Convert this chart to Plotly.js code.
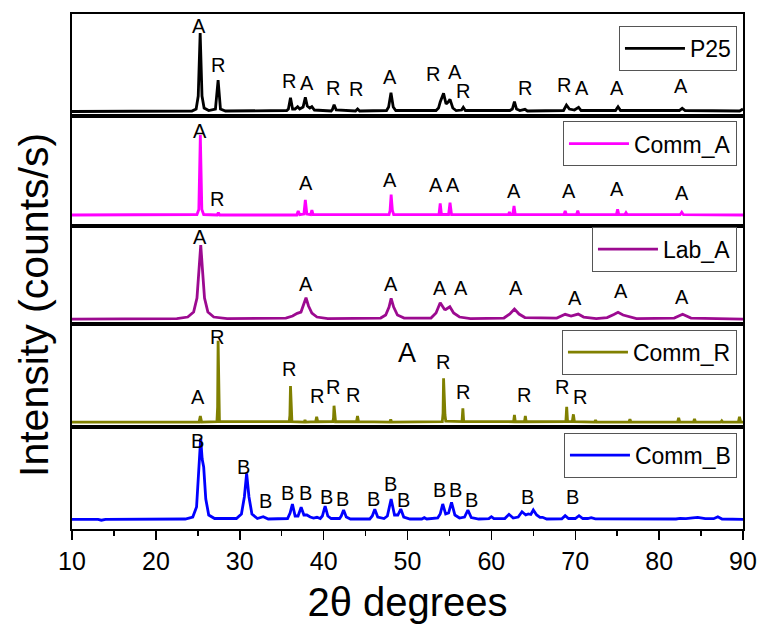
<!DOCTYPE html>
<html>
<head>
<meta charset="utf-8">
<script src="https://cdn.plot.ly/plotly-3.0.1.min.js"></script>
<style>html,body{margin:0;padding:0;background:#fff;}#chart{width:761px;height:626px;}</style>
</head>
<body>
<div id="chart"></div>
<script>
// ---------------- DATA (2θ in degrees, intensity in arbitrary counts) ----------------
const seriesNames = ['P25', 'Comm_A', 'Lab_A', 'Comm_R', 'Comm_B'];

const p25TwoTheta = [10,24.3,24.8,25.05,25.28,25.5,25.75,26.3,27.1,27.42,27.7,28.3,35.6,35.8,36.05,36.3,36.6,36.9,37.15,37.55,37.82,38.05,38.35,38.6,38.9,40.9,41.05,41.25,41.5,43.8,44.05,44.3,47.5,47.75,48.03,48.3,48.6,53.4,53.7,53.9,54.3,54.6,54.85,55.07,55.4,55.8,56.45,56.65,56.9,62.2,62.5,62.75,63.0,63.4,64.0,64.3,68.6,68.95,69.3,69.9,70.4,70.7,74.8,75.1,75.4,82.4,82.75,83.1,89.6,90];
const p25Counts   = [4.5,5,7,20,83,20,8,5.5,7,36,7,5,5.5,7,18.3,7,7,9.3,7,9,18.7,10,8,9.3,6,5,6.5,11.3,6,5,7,5,5.5,9,23.3,9,5.5,5.5,8,14,22.7,12,14,16.7,8,5.5,6,8.7,5.5,5.5,7,14.3,7,5.5,6.7,5,5.5,11,7,6,8.7,5.5,5.5,9.3,5.5,5.5,7.7,5.5,5,7];

const commATwoTheta = [10,24.9,25.12,25.3,25.48,25.7,27.3,27.45,27.6,36.8,36.97,37.15,37.65,37.82,38.0,38.45,38.6,38.75,47.8,47.92,48.05,48.2,48.35,53.75,53.9,54.05,54.9,55.07,55.25,62.05,62.15,62.3,62.55,62.7,62.85,68.65,68.8,68.95,70.15,70.3,70.45,74.9,75.05,75.2,75.9,76.05,76.2,82.5,82.7,82.9,90];
const commACounts   = [10.5,11,16,90.5,16,11,10.5,12.8,10.5,10.5,14.5,10.8,11.5,25.5,11.5,10.8,15.5,10.8,11,15,31,15,11,10.8,22.2,11,11,22.8,11,10.8,13.5,11,11,19.5,11,10.8,14.5,10.8,10.8,14.8,10.8,10.8,16.2,10.8,10.8,12.8,10.8,10.8,13.2,10.8,10.5];

const labATwoTheta = [10,22.5,23.8,24.5,24.9,25.15,25.35,25.55,25.8,26.2,26.9,28.5,35.5,36.3,36.85,37.3,37.6,37.9,38.2,38.6,39.2,40.5,46.8,47.4,47.8,48.05,48.35,48.8,49.6,52.8,53.4,53.9,54.4,54.55,55.05,55.5,56.2,57.5,61.5,62.2,62.75,63.3,64.0,67.8,68.8,69.5,70.35,71.0,72.5,73.8,74.6,75.1,75.7,76.3,77.3,81.8,82.8,83.8,90];
const labACounts   = [5,5.5,7,12,26,55,79,55,26,12,7,5.5,6,8,10.7,12,19,26.3,18,11,7,5.5,6,9,17,25.7,17,9,6,6,11,21.3,14.7,14.5,17.3,11,7,5.5,6,10,15,10,6.5,6,9.7,8,10,7,5.5,6.5,9.5,11.7,9,7.5,5.5,6,9.7,6,5];

const commRTwoTheta = [10,25.15,25.3,25.45,27.28,27.36,27.42,27.5,27.58,35.9,35.98,36.05,36.13,36.22,37.7,37.78,37.86,39.05,39.17,39.3,41.1,41.18,41.24,41.32,41.42,43.92,44.04,44.16,47.9,48.0,48.1,54.15,54.24,54.3,54.38,54.47,54.56,56.5,56.6,56.7,62.65,62.75,62.85,63.95,64.05,64.15,68.88,68.98,69.08,69.2,69.65,69.78,69.9,72.3,72.42,72.54,76.4,76.52,76.64,82.2,82.33,82.46,84.1,84.22,84.34,87.35,87.47,87.59,89.45,89.58,89.72,90];
const commRCounts   = [5,5,11,5,5.5,20,86.3,20,5.5,5.5,12,41,12,5.5,5,7,5,5.3,10.3,5.3,5.5,9,21.3,8,5.3,5.3,11,5.3,5,7.7,5,5.5,14,48.7,14,12,6,5.5,18.7,5.5,5.3,12,5.3,5.3,11,5.3,5.5,20.3,6,5.5,5.5,12.7,5.3,5,7,5,5,7.7,5,5,9.3,5,5,8,5,5,6.3,5,5,10.3,5,5];

const commBTwoTheta = [10,13.1,13.5,14,23.5,24.4,24.85,25.1,25.34,25.52,25.7,25.95,26.3,27.0,29.6,30.2,30.55,30.82,31.1,31.45,32.1,32.8,33.4,35.7,36.0,36.28,36.6,36.95,37.32,37.65,38.0,38.4,38.8,39.2,39.6,39.85,40.18,40.5,40.9,41.9,42.1,42.38,42.7,43.2,45.5,45.8,46.1,46.45,47.2,47.6,48.05,48.45,48.85,49.2,49.55,50.3,51.7,52.0,52.3,53.6,53.9,54.2,54.55,54.9,55.25,55.65,56.2,56.8,57.2,57.6,58.5,59.7,60.0,60.3,61.6,62.1,62.6,63.2,63.65,64.1,64.4,64.7,65.0,65.4,65.8,66.1,66.6,68.4,68.8,69.2,70.0,70.45,70.9,71.5,71.9,72.4,76.8,77.3,77.8,79.1,79.5,79.9,82.0,82.5,83.2,84.0,84.6,85.5,86.5,87.0,87.5,90];
const commBCounts   = [9.7,9.7,8.8,9.7,10,12,22,55,90.7,70,62,30,14,10.5,10.5,15,32,55.7,32,15,10.5,12.3,10,10.5,16,25,13,13,21.7,14,14,12,11,11.7,10.5,13,23,13,10.5,10.5,13,19,12,10,10,13,19.7,12,10.5,13,30,14,14,20,12,10,10,11.3,10,11,15,25,15,16,26.7,14,11,12,19,11.5,10,10.3,12.3,10.3,10.5,14.7,11,12,17.3,14,15,14.5,19,14,11.7,11.7,10,10.2,13.3,10.5,10.5,13.3,10.5,10.5,11.3,10.2,10,10.7,10,10,10.3,10,10,10.7,10.3,11.2,11.7,10.3,10.3,12.3,10,9.7];

// Peak labels: [phase letter, 2θ position, intensity level]
const p25Labels = [['A',25.2,90],['R',27.4,51],['R',35.83,35],['A',37.98,33.3],['R',41.15,28.3],['R',43.86,26.7],['A',47.91,39.3],['R',53.08,42],['A',55.66,44.5],['R',56.58,25.5],['R',64.0,27.7],['R',68.66,31],['A',70.77,27.7],['A',75.0,27.7],['A',82.6,30]];
const commALabels = [['A',25.26,94.5],['R',27.32,26.5],['A',37.86,42.2],['A',47.91,45.5],['A',53.4,40.2],['A',55.46,40.2],['A',62.73,34.5],['A',69.29,34.5],['A',74.93,36.8],['A',82.69,32.8]];
const labALabels = [['A',25.26,86.7],['A',37.86,39.7],['A',48.03,39.7],['A',53.87,36.3],['A',56.34,36.3],['A',62.9,36.3],['A',69.97,25.7],['A',75.45,33],['A',82.76,27.3]];
const commRLabels = [['A',24.99,30.3],['R',27.32,90.5],['R',35.83,57.7],['R',39.17,31.3],['R',41.15,40.3],['R',43.54,32],['R',54.27,65.3],['R',56.58,35.3],['R',63.89,32],['R',68.46,40.3],['R',70.57,30.3]];
const commRExtraLabel = ['A',49.9,73.7];
const commBLabels = [['B',24.94,88.3],['B',30.42,61.7],['B',33.01,28.3],['B',35.72,36.3],['B',37.78,36.3],['B',40.37,32.3],['B',42.27,30.3],['B',46.0,30.3],['B',48.0,44.7],['B',49.5,29],['B',53.76,39],['B',55.75,39],['B',57.65,29],['B',64.33,32.3],['B',69.7,32.3]];

const xTickValues = [10,20,30,40,50,60,70,80,90];

// ---------------- CHART ----------------
const FONT = 'Liberation Sans, Arial, Helvetica, sans-serif';
const colors = ['#000000', '#FF00FF', '#9C0A90', '#808000', '#0000FF'];
const xs = [p25TwoTheta, commATwoTheta, labATwoTheta, commRTwoTheta, commBTwoTheta];
const ys = [p25Counts, commACounts, labACounts, commRCounts, commBCounts];
const labelSets = [p25Labels, commALabels, labALabels, commRLabels, commBLabels];
// panel index 0 = top; axis suffix: bottom panel uses '' (x/y)
const axisSuffix = ['5', '4', '3', '2', ''];
const domains = [[0.8019, 1], [0.5893, 0.8019], [0.398, 0.5893], [0.198, 0.398], [0, 0.198]];
const legendTops = [0.977, 0.792, 0.587, 0.387, 0.187];

const traces = [];
const layout = {
  width: 761, height: 626,
  margin: {l: 72, r: 18, t: 14, b: 97},
  paper_bgcolor: '#ffffff', plot_bgcolor: '#ffffff',
  font: {family: FONT, color: '#000000'},
  annotations: [],
  showlegend: true
};

for (let i = 0; i < 5; i++) {
  const s = axisSuffix[i];
  const legendName = i === 0 ? 'legend' : 'legend' + (i + 1);
  traces.push({
    type: 'scatter', mode: 'lines',
    x: xs[i], y: ys[i], name: seriesNames[i],
    xaxis: 'x' + s, yaxis: 'y' + s,
    line: {color: colors[i], width: 2.8},
    legend: legendName, hoverinfo: 'x+y'
  });
  const h = (domains[i][1] - domains[i][0]) * 515;
  layout['yaxis' + s] = {
    domain: domains[i], range: [0, h], anchor: 'x' + s,
    showline: true, mirror: true, linecolor: '#000', linewidth: 2,
    showticklabels: false, ticks: '', showgrid: false, zeroline: false, fixedrange: true
  };
  const isBottom = s === '';
  layout['xaxis' + s] = {
    anchor: 'y' + s, range: [10, 90],
    showline: true, mirror: true, linecolor: '#000', linewidth: 2,
    showgrid: false, zeroline: false,
    showticklabels: isBottom, ticks: isBottom ? 'outside' : '',
    tickvals: isBottom ? xTickValues : undefined,
    ticklen: 9, tickwidth: 1.5, tickcolor: '#000',
    tickfont: {family: FONT, size: 25, color: '#000'},
    ticklabelstandoff: 0
  };
  if (!isBottom) layout['xaxis' + s].matches = 'x';
  if (isBottom) {
    layout['xaxis' + s].minor = {ticks: 'outside', ticklen: 5, tickwidth: 1.5, tickcolor: '#000', dtick: 5, tick0: 5, showgrid: false};
    layout['xaxis' + s].title = {text: '2θ degrees', font: {family: FONT, size: 40, color: '#000'}, standoff: 14};
  }
  layout[legendName] = {
    x: 0.991, xanchor: 'right', y: legendTops[i], yanchor: 'top',
    bgcolor: 'rgba(255,255,255,0)', bordercolor: '#555', borderwidth: 1,
    font: {family: FONT, size: 23, color: '#000'},
    itemwidth: 60,
    itemclick: false, itemdoubleclick: false
  };
  for (const lab of labelSets[i]) {
    layout.annotations.push({
      text: lab[0], x: lab[1], y: lab[2], xref: 'x' + s, yref: 'y' + s,
      showarrow: false, xanchor: 'center', yanchor: 'middle',
      font: {family: FONT, size: 20, color: '#000'}, borderpad: 0
    });
  }
}
// larger phase marker in Comm_R panel
layout.annotations.push({
  text: commRExtraLabel[0], x: commRExtraLabel[1], y: commRExtraLabel[2], xref: 'x2', yref: 'y2',
  showarrow: false, xanchor: 'center', yanchor: 'middle',
  font: {family: FONT, size: 27, color: '#000'}
});
// y axis title
layout.annotations.push({
  text: 'Intensity (counts/s)', xref: 'paper', yref: 'paper', x: -0.0566, y: 0.435,
  xanchor: 'center', yanchor: 'middle', textangle: -90, showarrow: false,
  font: {family: FONT, size: 41, color: '#000'}
});

Plotly.newPlot('chart', traces, layout, {displayModeBar: false, staticPlot: true});
</script>
</body>
</html>
